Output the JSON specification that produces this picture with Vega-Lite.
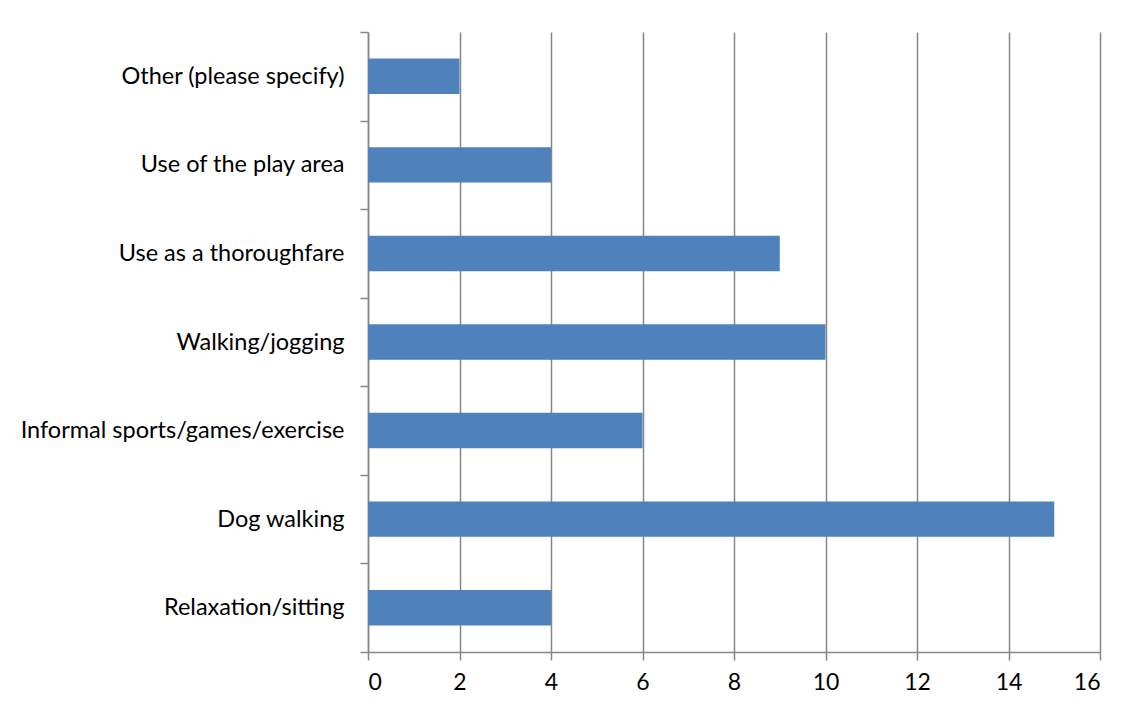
{
  "$schema": "https://vega.github.io/schema/vega-lite/v6.json",
  "autosize": "none",
  "width": 732,
  "height": 620,
  "padding": {"left": 368, "top": 32, "right": 41, "bottom": 58},
  "background": "white",
  "data": {
    "values": [
      {"activity": "Other (please specify)", "count": 2},
      {"activity": "Use of the play area", "count": 4},
      {"activity": "Use as a thoroughfare", "count": 9},
      {"activity": "Walking/jogging", "count": 10},
      {"activity": "Informal sports/games/exercise", "count": 6},
      {"activity": "Dog walking", "count": 15},
      {"activity": "Relaxation/sitting", "count": 4}
    ]
  },
  "mark": {"type": "bar", "color": "#4F81BD", "height": {"band": 0.4}},
  "encoding": {
    "y": {
      "field": "activity",
      "type": "nominal",
      "sort": null,
      "title": null,
      "scale": {"paddingInner": 0, "paddingOuter": 0},
      "axis": {
        "domainColor": "#868686",
        "domainWidth": 1.5,
        "tickColor": "#868686",
        "tickWidth": 1.5,
        "tickSize": 8,
        "tickBand": "extent",
        "labelPadding": 16,
        "labelFont": "Lato",
        "labelFontSize": 23.5,
        "labelColor": "#000000",
        "labelLimit": 400,
        "grid": false
      }
    },
    "x": {
      "field": "count",
      "type": "quantitative",
      "title": null,
      "scale": {"domain": [0, 16], "nice": false},
      "axis": {
        "values": [0, 2, 4, 6, 8, 10, 12, 14, 16],
        "domainColor": "#868686",
        "domainWidth": 1.5,
        "tickColor": "#868686",
        "tickWidth": 1.5,
        "tickSize": 8,
        "gridColor": "#868686",
        "gridWidth": 1.5,
        "gridOpacity": 1,
        "labelPadding": 11,
        "labelFont": "Lato",
        "labelFontSize": 23,
        "labelColor": "#000000"
      }
    }
  },
  "config": {"view": {"stroke": null}}
}
